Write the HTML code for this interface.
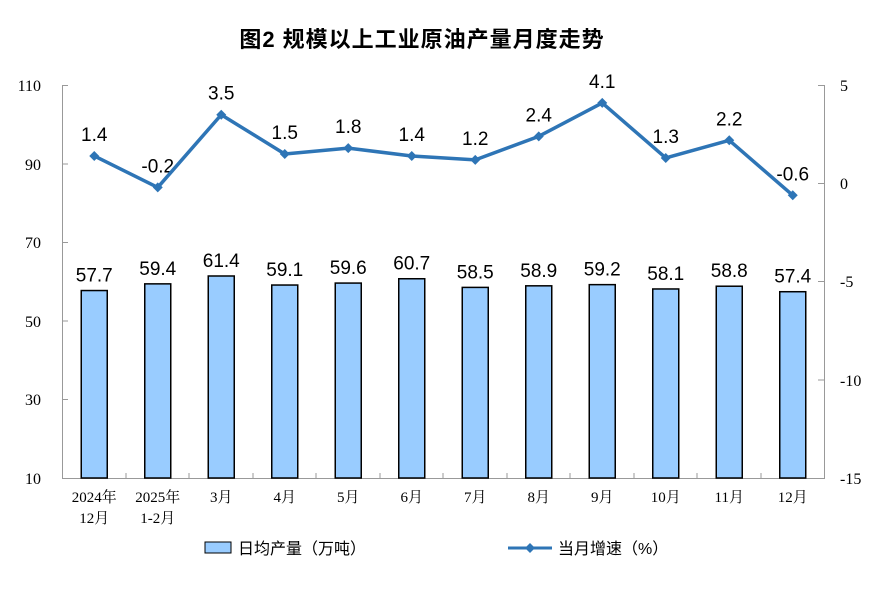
<!DOCTYPE html>
<html><head><meta charset="utf-8"><style>body{margin:0;background:#fff}svg{display:block}</style></head><body>
<svg width="891" height="602" xmlns="http://www.w3.org/2000/svg">
<text x="422" y="47" text-anchor="middle" font-family="Liberation Sans, Noto Sans CJK SC, sans-serif" font-size="22" font-weight="bold" letter-spacing="1" fill="#000">图2  规模以上工业原油产量月度走势</text>
<g stroke="#999" stroke-width="1" fill="none">
<line x1="62.5" y1="85" x2="62.5" y2="478"/>
<line x1="824.5" y1="85" x2="824.5" y2="478"/>
<line x1="62" y1="478.5" x2="825" y2="478.5"/>
<path d="M62 85.5h6M62 164h6M62 242.5h6M62 321h6M62 399.5h6M818 85.5h6M818 183.5h6M818 281.5h6M818 380h6"/>
<path d="M126 478v-5M189 478v-5M253 478v-5M316 478v-5M380 478v-5M443 478v-5M507 478v-5M570 478v-5M634 478v-5M697 478v-5M761 478v-5"/>
</g>
<g font-family="Liberation Serif, serif" font-size="16" fill="#000">
<text x="41" y="91" text-anchor="end">110</text><text x="41" y="170" text-anchor="end">90</text><text x="41" y="248" text-anchor="end">70</text><text x="41" y="327" text-anchor="end">50</text><text x="41" y="405" text-anchor="end">30</text><text x="41" y="484" text-anchor="end">10</text>
<text x="840" y="91">5</text><text x="840" y="189">0</text><text x="840" y="287">-5</text><text x="840" y="386">-10</text><text x="840" y="484">-15</text>
</g>
<g fill="#99CCFF" stroke="#000" stroke-width="1.5" id="bars"></g>
<g id="vl" font-family="Liberation Sans, sans-serif" font-size="19" fill="#000" text-anchor="middle"></g>
<g id="cl" font-family="Liberation Serif, Noto Serif CJK SC, serif" font-size="15" fill="#000" text-anchor="middle"></g>
<polyline id="ln" fill="none" stroke="#2E75B6" stroke-width="3.5" stroke-linejoin="round"/>
<g id="mk" fill="#2E75B6"></g>
<rect x="205" y="542" width="26" height="11" fill="#99CCFF" stroke="#000" stroke-width="1"/>
<text x="238" y="554" font-family="Liberation Sans, Noto Sans CJK SC, sans-serif" font-size="16">日均产量（万吨）</text>
<line x1="508" y1="548" x2="552" y2="548" stroke="#2E75B6" stroke-width="3"/>
<path d="M530 543l5 5-5 5-5-5z" fill="#2E75B6"/>
<text x="558" y="554" font-family="Liberation Sans, Noto Sans CJK SC, sans-serif" font-size="16">当月增速（%）</text>
<script>
var p=[57.7,59.4,61.4,59.1,59.6,60.7,58.5,58.9,59.2,58.1,58.8,57.4],g=[1.4,-0.2,3.5,1.5,1.8,1.4,1.2,2.4,4.1,1.3,2.2,-0.6];
var c=[["2024年","12月"],["2025年","1-2月"],["3月"],["4月"],["5月"],["6月"],["7月"],["8月"],["9月"],["10月"],["11月"],["12月"]];
var ns="http://www.w3.org/2000/svg",pts=[];
function el(t,a,par,tx){var e=document.createElementNS(ns,t);for(var k in a)e.setAttribute(k,a[k]);if(tx)e.textContent=tx;document.getElementById(par).appendChild(e);}
for(var i=0;i<12;i++){var cx=62.5+63.5*(i+0.5),y=478-(p[i]-10)*3.93;
el("rect",{x:cx-13,y:y,width:26,height:478-y},"bars");
el("text",{x:cx,y:y-9},"vl",p[i].toFixed(1));
var ly=183.5-g[i]*19.65;pts.push(cx+","+ly);
el("path",{d:"M"+cx+" "+(ly-5)+"l5 5-5 5-5-5z"},"mk");
el("text",{x:cx,y:ly-15},"vl",g[i].toFixed(1));
el("text",{x:cx,y:502},"cl",c[i][0]);if(c[i][1])el("text",{x:cx,y:523},"cl",c[i][1]);}
document.getElementById("ln").setAttribute("points",pts.join(" "));
</script>
</svg></body></html>
